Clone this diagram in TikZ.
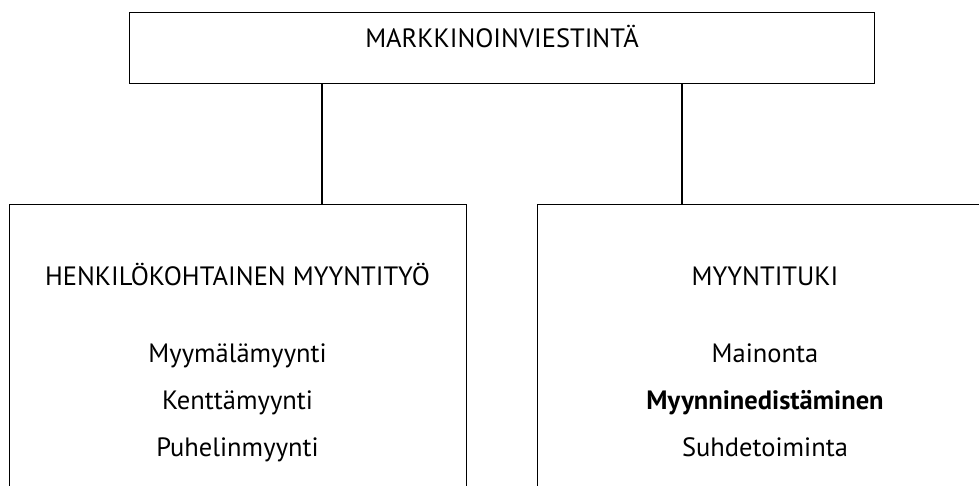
\documentclass[tikz,border=0pt]{standalone}
\usepackage{fontspec}
\setmainfont{PT Sans}
\usetikzlibrary{positioning}

\newcommand\orgtextstyle{\fontsize{26.5}{32}\selectfont}
\tikzset{
  orgbox/.style={draw, line width=1.3pt, rectangle, anchor=north west, inner sep=0pt},
  orgtext/.style={anchor=base, inner sep=0pt, font=\orgtextstyle},
  orgline/.style={line width=1.3pt}
}

\begin{document}
\begin{tikzpicture}[x=1pt, y=-1pt]
  \useasboundingbox (0,0) rectangle (979,486);
  \clip (0,0) rectangle (979,486);

  % ylin laatikko
  \node[orgbox, minimum width=745pt, minimum height=71pt] (mark) at (129,12) {};
  \node[orgtext] (markText) at (502,48) {MARKKINOINVIESTINTÄ};

  % alalaatikot
  \node[orgbox, minimum width=457pt, minimum height=320pt] (henk) at (9,204) {};
  \node[orgbox, minimum width=456pt, minimum height=320pt] (tuki) at (537,204) {};

  \coordinate (jl) at (322,0);
  \coordinate (jr) at (682,0);
  \draw[orgline] (mark.south -| jl) -- (henk.north -| jl);
  \draw[orgline] (mark.south -| jr) -- (tuki.north -| jr);

  % vasen
  \node[orgtext] (henkText) at (237.5,285) {HENKILÖKOHTAINEN MYYNTITYÖ};
  \node[orgtext] (myym) at (237.5,362) {Myymälämyynti};
  \node[orgtext] (kent) at (237.5,409) {Kenttämyynti};
  \node[orgtext] (puhe) at (237.5,456) {Puhelinmyynti};

  % oikea
  \node[orgtext] (tukiText) at (765,285) {MYYNTITUKI};
  \node[orgtext] (main) at (765,362) {Mainonta};
  \node[orgtext] (myyn) at (765,409) {\textbf{Myynninedistäminen}};
  \node[orgtext] (suhd) at (765,456) {Suhdetoiminta};
\end{tikzpicture}
\end{document}
